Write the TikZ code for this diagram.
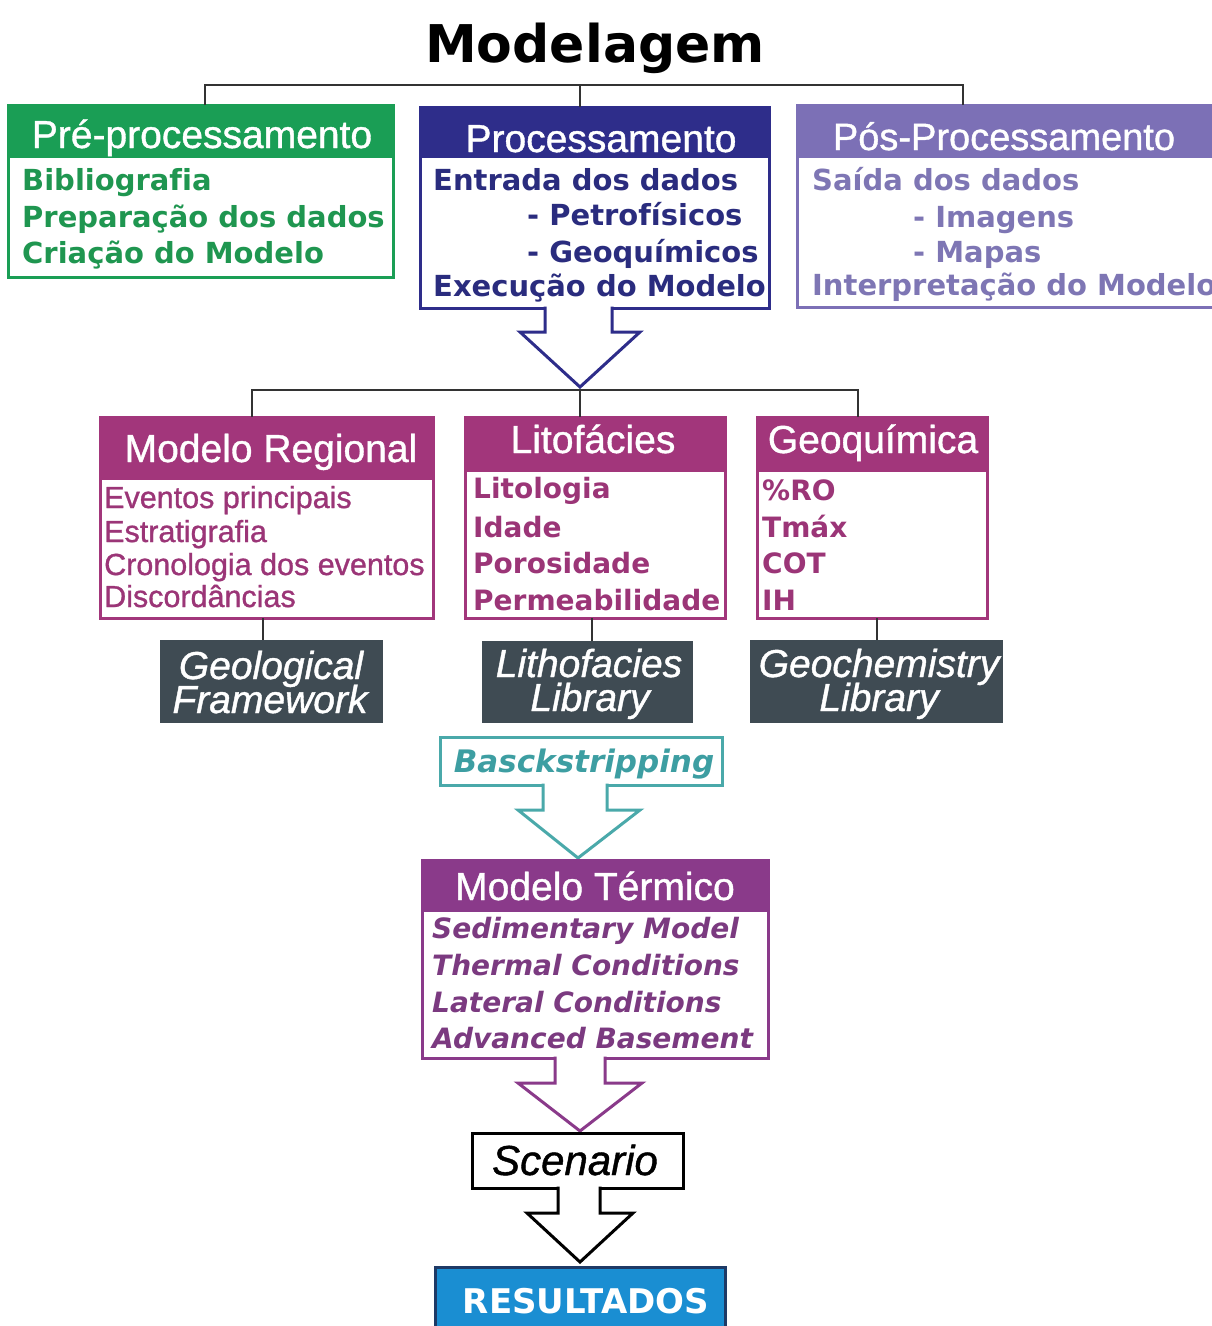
\documentclass[tikz,border=0pt]{standalone}
\usepackage{fontspec}
\usetikzlibrary{calc}
\newfontfamily\verd{DejaVu Sans}[Ligatures=NoCommon]
\newfontfamily\ari{Liberation Sans}
\newfontfamily\arih{Liberation Sans}[FakeBold=1]
\definecolor{cgreen}{HTML}{1A9E55}
\definecolor{tgreen}{HTML}{1F9650}
\definecolor{cnavy}{HTML}{2E2D8A}
\definecolor{tnavy}{HTML}{2A2C7E}
\definecolor{clav}{HTML}{7C70B6}
\definecolor{tlav}{HTML}{7E76B4}
\definecolor{cmag}{HTML}{A2367B}
\definecolor{tmag}{HTML}{9B3577}
\definecolor{cplum}{HTML}{8A3A8A}
\definecolor{tplum}{HTML}{7B3A80}
\definecolor{cslate}{HTML}{3F4B53}
\definecolor{cteal}{HTML}{4AA9AA}
\definecolor{tteal}{HTML}{3D9EA2}
\definecolor{cblue}{HTML}{1A8ED2}
\definecolor{cblueb}{HTML}{1E3A66}
\definecolor{cline}{HTML}{333333}
\newcommand\hdrbox[8]{%
  \fill[#2] (#3,#4) rectangle (#5,#7);
  \node[draw=#2, line width=#8, inner sep=0pt, outer sep=0pt, minimum width={#5-#3}, minimum height={#6-#4}, anchor=north west] (#1) at (#3,#4) {};
}
\newcommand\blockarrow[9]{%
  \fill[white] ($(#2)+(#3,-1.5)$) -- ($(#2)+(#3,#5)$) -- ($(#2)+(#6,#5)$) -- ($(#2)+(#8,#9)$) -- ($(#2)+(#7,#5)$) -- ($(#2)+(#4,#5)$) -- ($(#2)+(#4,-1.5)$) -- cycle;
  \draw[#1, line width=3, line join=miter] ($(#2)+(#3,-1.5)$) -- ($(#2)+(#3,#5)$) -- ($(#2)+(#6,#5)$) -- ($(#2)+(#8,#9)$) -- ($(#2)+(#7,#5)$) -- ($(#2)+(#4,#5)$) -- ($(#2)+(#4,-1.5)$);
}
\tikzset{
  conn/.style={draw=cline, line width=2},
  hdr/.style={anchor=base, text=white, inner sep=0pt, font={\arih\fontsize{39}{39}\selectfont}},
  bodyv/.style={anchor=base west, inner sep=0pt, font={\verd\bfseries\fontsize{29}{29}\selectfont}},
  bodyvs/.style={anchor=base west, inner sep=0pt, font={\verd\bfseries\fontsize{28}{28}\selectfont}},
  bodyvi/.style={anchor=base west, inner sep=0pt, text=tplum, font={\verd\bfseries\itshape\fontsize{28}{28}\selectfont}},
  bodya/.style={anchor=base west, inner sep=0pt, text=tmag, font={\arih\fontsize{30.5}{30.5}\selectfont}},
  darkbox/.style={fill=cslate, inner sep=0pt, outer sep=0pt},
  darkt/.style={anchor=base, inner sep=0pt, text=white, font={\arih\itshape\fontsize{39}{39}\selectfont}},
}
\begin{document}
\begin{tikzpicture}[x=1pt,y=-1pt]
\useasboundingbox (0,0) rectangle (1212,1326);
\clip (0,0) rectangle (1212,1326);
\fill[white] (0,0) rectangle (1212,1326);

% title
\node[anchor=base, inner sep=0pt, font={\verd\bfseries\fontsize{52}{52}\selectfont}] (title) at (595,62) {Modelagem};

% level 1 boxes
\hdrbox{pre}{cgreen}{8}{105}{393}{277}{158}{3}
\hdrbox{proc}{cnavy}{420}{107}{769}{308}{158}{3}
\hdrbox{pos}{clav}{797}{105}{1240}{307}{158}{3}

\node[hdr] (pre-h) at (202,148) {Pré-processamento};
\node[hdr] (proc-h) at (601,152) {Processamento};
\node[hdr, font={\arih\fontsize{38}{38}\selectfont}] (pos-h) at (1004,150) {Pós-Processamento};

\node[bodyv, text=tgreen] (pre-1) at (22,190) {Bibliografia};
\node[bodyv, text=tgreen] (pre-2) at (22,227) {Preparação dos dados};
\node[bodyv, text=tgreen] (pre-3) at (22,263) {Criação do Modelo};

\node[bodyv, text=tnavy] (proc-1) at (433,190) {Entrada dos dados};
\node[bodyv, text=tnavy] (proc-2) at (527,225) {- Petrofísicos};
\node[bodyv, text=tnavy] (proc-3) at (527,262) {- Geoquímicos};
\node[bodyv, text=tnavy] (proc-4) at (433,296) {Execução do Modelo};

\node[bodyv, text=tlav] (pos-1) at (812,190) {Saída dos dados};
\node[bodyv, text=tlav] (pos-2) at (913,227) {- Imagens};
\node[bodyv, text=tlav] (pos-3) at (913,262) {- Mapas};
\node[bodyv, text=tlav] (pos-4) at (812,295) {Interpretação do Modelo};

% top connectors
\coordinate (j1) at (580,85);
\draw[conn] ($(pre.north west)+(197,0)$) |- (j1) -| ($(pos.north west)+(166,0)$);
\draw[conn] (j1) -- ($(proc.north west)+(160,0)$);

% level 2 boxes
\hdrbox{reg}{cmag}{100}{417}{433}{618}{480}{3}
\hdrbox{lit}{cmag}{465}{417}{725}{618}{472}{3}
\hdrbox{geo}{cmag}{757}{417}{987}{618}{472}{3}

\node[hdr] (reg-h) at (271,462) {Modelo Regional};
\node[hdr] (lit-h) at (593,453) {Litofácies};
\node[hdr] (geo-h) at (873,453) {Geoquímica};

\node[bodya] (reg-1) at (104,508) {Eventos principais};
\node[bodya] (reg-2) at (104,542) {Estratigrafia};
\node[bodya] (reg-3) at (104,575) {Cronologia dos eventos};
\node[bodya] (reg-4) at (104,607) {Discordâncias};

\node[bodyvs, text=tmag] (lit-1) at (473,498) {Litologia};
\node[bodyvs, text=tmag] (lit-2) at (473,537) {Idade};
\node[bodyvs, text=tmag] (lit-3) at (473,573) {Porosidade};
\node[bodyvs, text=tmag] (lit-4) at (473,610) {Permeabilidade};

\node[bodyvs, text=tmag] (geo-1) at (762,500) {\%RO};
\node[bodyvs, text=tmag] (geo-2) at (762,537) {Tmáx};
\node[bodyvs, text=tmag] (geo-3) at (762,573) {COT};
\node[bodyvs, text=tmag] (geo-4) at (762,610) {IH};

% arrow from Processamento and level 2 connectors
\coordinate (j2) at (580,390);
\draw[conn] ($(reg.north west)+(152,0)$) |- (j2) -| ($(geo.north west)+(101,0)$);
\draw[conn] (j2) -- ($(lit.north west)+(115,0)$);
\blockarrow{cnavy}{proc.south west}{125}{192}{24}{100}{220}{160}{79}

% dark library boxes
\node[darkbox, minimum width=223, minimum height=83] (gf) at (271.5,681.5) {};
\node[darkbox, minimum width=211, minimum height=82] (lb) at (587.5,682) {};
\node[darkbox, minimum width=253, minimum height=83] (gl) at (876.5,681.5) {};
\node[darkt] (gf-1) at (271,679) {Geological};
\node[darkt] (gf-2) at (270,713) {Framework};
\node[darkt] (lb-1) at (589,677) {Lithofacies};
\node[darkt] (lb-2) at (590,711) {Library};
\node[darkt] (gl-1) at (879,677) {Geochemistry};
\node[darkt] (gl-2) at (879,711) {Library};
\draw[conn] ($(reg.south west)+(163,0)$) -- ($(gf.north west)+(103,0)$);
\draw[conn] ($(lit.south west)+(127,0)$) -- ($(lb.north west)+(110,0)$);
\draw[conn] ($(geo.south west)+(120,0)$) -- ($(gl.north west)+(127,0)$);

% Basckstripping
\node[draw=cteal, line width=3, inner sep=0pt, outer sep=0pt, minimum width=282, minimum height=48] (bs) at (581,761) {};
\node[anchor=base, inner sep=0pt, text=tteal, font={\verd\bfseries\itshape\fontsize{31}{31}\selectfont}] (bs-t) at (584,772) {Basckstripping};
\blockarrow{cteal}{bs.south west}{103}{167}{25}{78}{200}{138}{73}

% Modelo Termico
\hdrbox{term}{cplum}{422}{860}{768}{1058}{912}{3}
\node[hdr] (term-h) at (595,900) {Modelo Térmico};
\node[bodyvi] (term-1) at (432,938) {Sedimentary Model};
\node[bodyvi] (term-2) at (432,975) {Thermal Conditions};
\node[bodyvi] (term-3) at (432,1012) {Lateral Conditions};
\node[bodyvi] (term-4) at (432,1048) {Advanced Basement};
\blockarrow{cplum}{term.south west}{133}{183}{25}{96}{220}{158}{73}

% Scenario
\node[draw=black, line width=3, fill=white, inner sep=0pt, outer sep=0pt, minimum width=211, minimum height=55] (scen) at (577.5,1160.5) {};
\node[anchor=base, inner sep=0pt, font={\arih\itshape\fontsize{42}{42}\selectfont}] (scen-t) at (575,1175) {Scenario};
\blockarrow{black}{scen.south west}{86}{128}{25}{55}{161}{108}{74}

% Resultados
\node[draw=cblueb, fill=cblue, line width=3, inner sep=0pt, outer sep=0pt, minimum width=290, minimum height=80, anchor=north west] (res) at (435,1267) {};
\node[anchor=base, inner sep=0pt, text=white, font={\verd\bfseries\fontsize{34}{34}\selectfont}] (res-t) at (586,1313) {RESULTADOS};
\end{tikzpicture}
\end{document}
